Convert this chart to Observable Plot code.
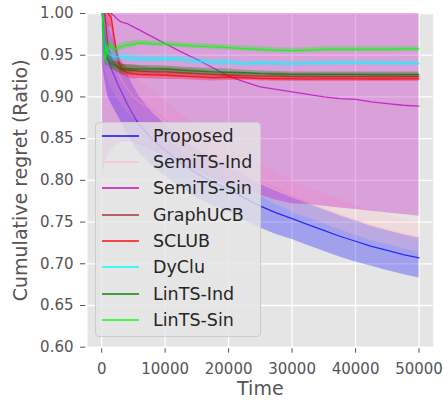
<!DOCTYPE html>
<html><head><meta charset="utf-8">
<script src="https://cdn.jsdelivr.net/npm/d3@7"></script>
<script src="https://cdn.jsdelivr.net/npm/@observablehq/plot@0.6"></script>
<style>
body{margin:0;background:#fff;}
#wrap{position:relative;width:443px;height:403px;font-family:"DejaVu Sans",sans-serif;}
#legend{position:absolute;left:95px;top:122px;width:166px;height:215px;background:rgba(229,229,229,0.8);border:1px solid #cccccc;border-radius:4px;box-sizing:border-box;}
.row{position:absolute;left:0;height:26px;display:flex;align-items:center;white-space:nowrap;}
.sw{margin-left:6px;width:37px;height:2px;opacity:0.7;}
.lab{margin-left:14px;font-size:17.5px;color:#262626;}
</style></head>
<body><div id="wrap"></div>
<script>
const steps = [100, 500, 1000, 1500, 2000, 2500, 3000, 4000, 5000, 6000, 8000, 10000, 12500, 15000, 17500, 20000, 22500, 25000, 27500, 30000, 32500, 35000, 37500, 40000, 42500, 45000, 47500, 50000];

const seriesNames = ["Proposed", "SemiTS-Ind", "SemiTS-Sin", "GraphUCB", "SCLUB", "DyClu", "LinTS-Ind", "LinTS-Sin"];
const seriesColors = ["#0000ff", "#ffc0cb", "#bf00bf", "#a52a2a", "#ff0000", "#00ffff", "#008000", "#00ff00"];

const proposed = [1.0, 0.97, 0.945, 0.934, 0.925, 0.916, 0.908, 0.892, 0.878, 0.866, 0.849, 0.836, 0.821, 0.808, 0.798, 0.789, 0.779, 0.769, 0.761, 0.754, 0.747, 0.740, 0.733, 0.727, 0.721, 0.716, 0.711, 0.707];
const proposedSd = [0.06, 0.05, 0.045, 0.042, 0.04, 0.038, 0.037, 0.036, 0.035, 0.034, 0.032, 0.031, 0.030, 0.029, 0.028, 0.027, 0.027, 0.026, 0.026, 0.025, 0.025, 0.025, 0.025, 0.025, 0.024, 0.024, 0.024, 0.024];

const semiInd = [1.0, 0.985, 0.965, 0.95, 0.94, 0.93, 0.922, 0.91, 0.90, 0.894, 0.884, 0.873, 0.858, 0.845, 0.832, 0.82, 0.81, 0.80, 0.79, 0.781, 0.773, 0.766, 0.759, 0.752, 0.746, 0.741, 0.736, 0.732];
const semiIndSd = [0.06, 0.05, 0.045, 0.04, 0.035, 0.033, 0.03, 0.028, 0.026, 0.025, 0.024, 0.023, 0.022, 0.021, 0.02, 0.02, 0.02, 0.019, 0.019, 0.019, 0.018, 0.018, 0.018, 0.018, 0.018, 0.018, 0.018, 0.018];

const semiSin = [1.05, 1.04, 1.02, 1.0, 0.997, 0.993, 0.99, 0.988, 0.984, 0.98, 0.972, 0.964, 0.954, 0.945, 0.935, 0.925, 0.918, 0.912, 0.909, 0.906, 0.903, 0.900, 0.898, 0.897, 0.894, 0.892, 0.890, 0.889];
const semiSinSd = [0.25, 0.22, 0.19, 0.165, 0.157, 0.15, 0.145, 0.142, 0.139, 0.138, 0.136, 0.136, 0.136, 0.135, 0.133, 0.13, 0.128, 0.13, 0.133, 0.134, 0.132, 0.131, 0.131, 0.132, 0.131, 0.131, 0.131, 0.132];

const graphUCB = [1.05, 1.0, 0.96, 0.945, 0.94, 0.936, 0.933, 0.932, 0.932, 0.931, 0.930, 0.930, 0.929, 0.928, 0.927, 0.926, 0.9255, 0.925, 0.925, 0.9245, 0.9245, 0.9245, 0.9245, 0.9245, 0.9245, 0.9245, 0.9245, 0.9245];
const graphUCBSd = [0.03, 0.02, 0.012, 0.009, 0.008, 0.007, 0.007, 0.006, 0.006, 0.006, 0.005, 0.005, 0.005, 0.005, 0.004, 0.004, 0.004, 0.004, 0.004, 0.004, 0.004, 0.004, 0.004, 0.004, 0.004, 0.004, 0.004, 0.004];

const sclub = [1.1, 1.05, 1.0, 0.995, 0.97, 0.948, 0.935, 0.929, 0.9276, 0.927, 0.9265, 0.926, 0.925, 0.924, 0.923, 0.9236, 0.923, 0.922, 0.9218, 0.9216, 0.9214, 0.9216, 0.9216, 0.9216, 0.9215, 0.9215, 0.9216, 0.9216];
const sclubSd = [0.03, 0.02, 0.015, 0.012, 0.01, 0.008, 0.007, 0.006, 0.006, 0.005, 0.005, 0.005, 0.004, 0.004, 0.004, 0.004, 0.003, 0.003, 0.003, 0.003, 0.003, 0.003, 0.003, 0.003, 0.003, 0.003, 0.003, 0.003];

const dyclu = [1.0, 0.96, 0.952, 0.95, 0.948, 0.948, 0.948, 0.947, 0.946, 0.9456, 0.945, 0.9456, 0.945, 0.943, 0.9416, 0.942, 0.9395, 0.9405, 0.94, 0.9396, 0.9402, 0.9405, 0.941, 0.941, 0.9408, 0.9405, 0.9402, 0.940];
const dycluSd = [0.02, 0.012, 0.008, 0.007, 0.006, 0.006, 0.005, 0.005, 0.005, 0.004, 0.004, 0.004, 0.004, 0.004, 0.004, 0.004, 0.003, 0.003, 0.003, 0.003, 0.003, 0.003, 0.003, 0.003, 0.003, 0.003, 0.003, 0.003];

const lintsInd = [1.0, 0.95, 0.945, 0.94, 0.938, 0.936, 0.934, 0.934, 0.9336, 0.9336, 0.9336, 0.9335, 0.932, 0.931, 0.930, 0.9296, 0.929, 0.928, 0.9275, 0.927, 0.927, 0.927, 0.927, 0.927, 0.9268, 0.9268, 0.9268, 0.9268];
const lintsIndSd = [0.02, 0.012, 0.008, 0.007, 0.006, 0.006, 0.005, 0.005, 0.005, 0.004, 0.004, 0.004, 0.004, 0.004, 0.004, 0.004, 0.003, 0.003, 0.003, 0.003, 0.003, 0.003, 0.003, 0.003, 0.003, 0.003, 0.003, 0.003];

const lintsSin = [1.0, 0.945, 0.958, 0.963, 0.957, 0.958, 0.96, 0.962, 0.963, 0.965, 0.9636, 0.9635, 0.962, 0.961, 0.960, 0.959, 0.958, 0.957, 0.956, 0.9556, 0.956, 0.957, 0.957, 0.957, 0.957, 0.957, 0.9575, 0.9576];
const lintsSinSd = [0.02, 0.01, 0.006, 0.005, 0.004, 0.004, 0.004, 0.004, 0.004, 0.003, 0.003, 0.003, 0.003, 0.003, 0.003, 0.003, 0.003, 0.003, 0.003, 0.003, 0.003, 0.003, 0.003, 0.003, 0.003, 0.003, 0.003, 0.003];

const xTicks = [0, 10000, 20000, 30000, 40000, 50000];
const yTicks = [0.60, 0.65, 0.70, 0.75, 0.80, 0.85, 0.90, 0.95, 1.00];

const means = [proposed, semiInd, semiSin, graphUCB, sclub, dyclu, lintsInd, lintsSin];
const sds = [proposedSd, semiIndSd, semiSinSd, graphUCBSd, sclubSd, dycluSd, lintsIndSd, lintsSinSd];

const tables = seriesNames.map((name, i) => steps.map((x, j) => ({
  series: name, x, y: means[i][j], lo: means[i][j] - sds[i][j], hi: means[i][j] + sds[i][j]
})));

const marks = [
  Plot.frame({fill: "#e5e5e5", stroke: null}),
  Plot.gridX(xTicks, {stroke: "#ffffff", strokeOpacity: 1, strokeWidth: 1.3}),
  Plot.gridY(yTicks, {stroke: "#ffffff", strokeOpacity: 1, strokeWidth: 1.3})
];
tables.forEach((t, i) => {
  marks.push(Plot.areaY(t, {x: "x", y1: "lo", y2: "hi", fill: seriesColors[i], fillOpacity: 0.3, clip: true}));
  marks.push(Plot.lineY(t, {x: "x", y: "y", stroke: seriesColors[i], strokeOpacity: 0.75, strokeWidth: 1.3, clip: true}));
});
marks.push(
  Plot.axisX(xTicks, {tickSize: 4.5, tickPadding: 10, dy: 1.5, fontSize: 15, fill: "#555", stroke: "#555", tickFormat: d => String(d), label: null}),
  Plot.axisY(yTicks, {tickSize: 5.3, tickPadding: 7, dx: -1.7, fontSize: 15, fill: "#555", stroke: "#555", tickFormat: d3.format(".2f"), label: null}),
  Plot.text(["Cumulative regret (Ratio)"], {text: d => d, frameAnchor: "left", textAnchor: "middle", lineAnchor: "middle", rotate: -90, dx: -66.5, fontSize: 19, fill: "#555"}),
  Plot.text(["Time"], {text: d => d, frameAnchor: "bottom", textAnchor: "middle", lineAnchor: "middle", dy: 41.3, fontSize: 19, fill: "#555"})
);

const chart = Plot.plot({
  width: 443, height: 403,
  marginLeft: 87, marginRight: 10.3, marginTop: 13, marginBottom: 56.3,
  x: {domain: [-2230, 52230]},
  y: {domain: [0.6, 1.0]},
  style: {fontFamily: "DejaVu Sans", background: "#ffffff", color: "#555"},
  marks
});
const wrap = document.getElementById("wrap");
wrap.appendChild(chart);

const legend = document.createElement("div");
legend.id = "legend";
seriesNames.forEach((name, i) => {
  const c = 135.7 + i * 26.33;
  const row = document.createElement("div");
  row.className = "row";
  row.style.top = (c - 123 - 13) + "px";
  const sw = document.createElement("div");
  sw.className = "sw";
  sw.style.background = seriesColors[i];
  const lab = document.createElement("span");
  lab.className = "lab";
  lab.textContent = name;
  row.appendChild(sw); row.appendChild(lab);
  legend.appendChild(row);
});
wrap.appendChild(legend);
</script>
</body></html>
